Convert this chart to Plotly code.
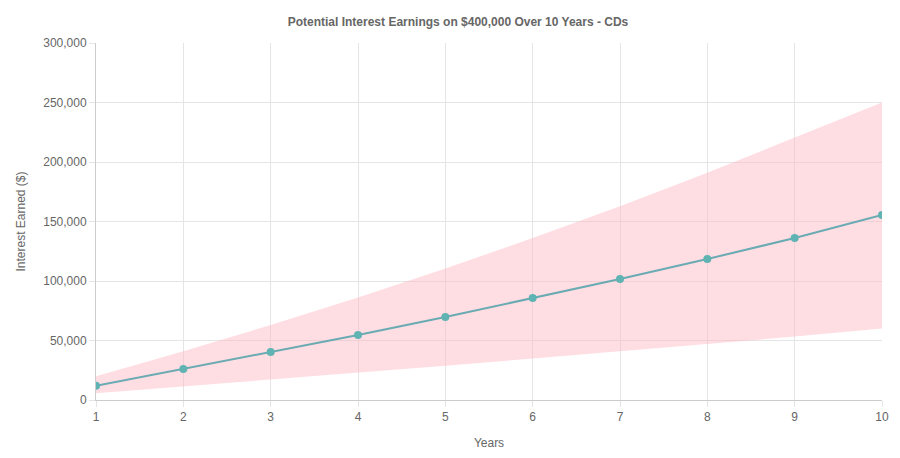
import plotly.graph_objects as go

years = [1, 2, 3, 4, 5, 6, 7, 8, 9, 10]
expected = [12000, 26000, 40300, 54600, 69700, 85700, 101700, 118500, 136100, 155500]
upper = [20000, 41000, 63050, 86203, 110513, 136038, 162840, 190982, 220531, 250000]
lower = [5600, 11278, 17036, 22874, 28794, 34796, 40881, 47053, 53311, 60000]

fig = go.Figure()
fig.add_trace(go.Scatter(x=years, y=lower, mode='lines', line=dict(width=0),
                         showlegend=False, hoverinfo='skip'))
fig.add_trace(go.Scatter(x=years, y=upper, mode='lines', line=dict(width=0),
                         fill='tonexty', fillcolor='rgba(255,182,193,0.45)',
                         showlegend=False, hoverinfo='skip'))
fig.add_trace(go.Scatter(x=years, y=expected, mode='lines+markers',
                         line=dict(color='#6aabb3', width=2),
                         marker=dict(color='#5fb3b3', size=8),
                         showlegend=False))

fig.update_layout(
    width=900, height=458,
    margin=dict(l=79, r=26, t=35, b=66),
    paper_bgcolor='white', plot_bgcolor='white',
    font=dict(family='Liberation Sans, Arial, sans-serif', size=12, color='#666'),
    title=dict(text='<b>Potential Interest Earnings on $400,000 Over 10 Years - CDs</b>',
               x=0.5, xanchor='center', y=0.98, font=dict(size=12, color='#666')),
)
fig.update_xaxes(range=[1, 10], tickmode='array', tickvals=years,
                 showgrid=True, gridcolor='#e5e5e5', linecolor='#ccc', showline=True,
                 zeroline=False, ticks='outside', ticklen=6, tickcolor='#e5e5e5',
                 title=dict(text='Years', font=dict(size=12, color='#666')))
fig.update_yaxes(range=[0, 300000], dtick=50000, tickformat=',',
                 showgrid=True, gridcolor='#e5e5e5', linecolor='#ccc', showline=True,
                 zeroline=False, ticks='outside', ticklen=6, tickcolor='#e5e5e5',
                 title=dict(text='Interest Earned ($)', font=dict(size=12, color='#666')))

fig.write_html("out.html")
